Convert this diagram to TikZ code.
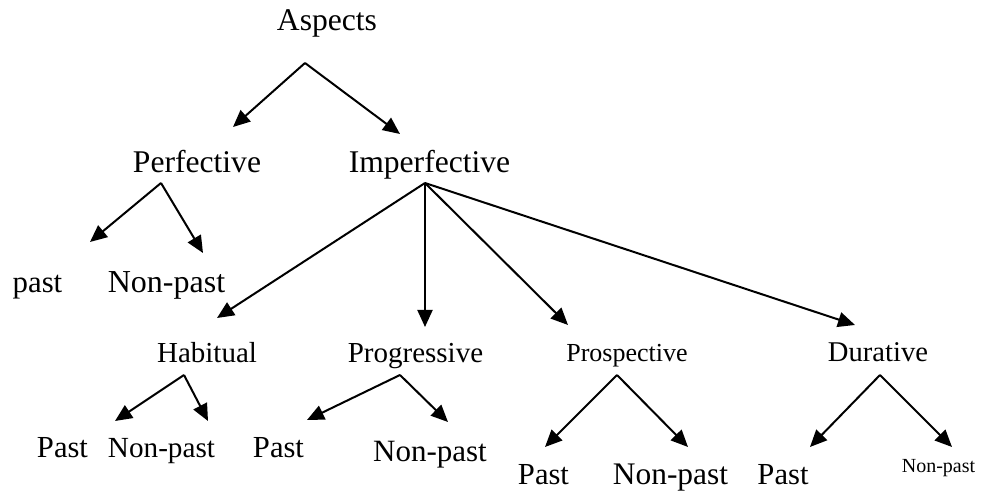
\documentclass[tikz,border=0pt]{standalone}
\usepackage{fontspec}
\setmainfont{Liberation Serif}
\usetikzlibrary{arrows.meta}
\newcommand\fsz[1]{\fontsize{#1}{#1}\selectfont}
\tikzset{
  lbl/.style={inner sep=0pt,anchor=base},
  link/.style={-{Triangle[length=8.5pt,width=7.5pt]},line width=1pt}
}
\begin{document}
\begin{tikzpicture}[x=0.5pt,y=-0.5pt]
\useasboundingbox (0,0) rectangle (982,496);
% labels
\node[lbl,font=\fsz{15.8}] (asp) at (327,31) {Aspects};
\node[lbl,font=\fsz{15.8}] (perf) at (197,173) {Perfective};
\node[lbl,font=\fsz{15.8}] (imperf) at (429.5,173) {Imperfective};
\node[lbl,font=\fsz{15.4}] (perfpast) at (37.5,293) {past};
\node[lbl,font=\fsz{16}] (perfnon) at (166.5,293) {Non-past};
\node[lbl,font=\fsz{14.5}] (hab) at (207,363) {Habitual};
\node[lbl,font=\fsz{14.5}] (prog) at (415.5,363) {Progressive};
\node[lbl,font=\fsz{13}] (prosp) at (627,362) {Prospective};
\node[lbl,font=\fsz{14.3}] (dur) at (878,362) {Durative};
\node[lbl,font=\fsz{15.3}] (habpast) at (62.5,458) {Past};
\node[lbl,font=\fsz{14.6}] (habnon) at (161.5,458) {Non-past};
\node[lbl,font=\fsz{15.3}] (progpast) at (278.5,458) {Past};
\node[lbl,font=\fsz{15.5}] (prognon) at (430,462) {Non-past};
\node[lbl,font=\fsz{15.3}] (prosppast) at (543.5,485) {Past};
\node[lbl,font=\fsz{15.7}] (prospnon) at (670.5,485) {Non-past};
\node[lbl,font=\fsz{15.3}] (durpast) at (783,485) {Past};
\node[lbl,font=\fsz{10}] (durnon) at (938.5,473) {Non-past};
% arrow ends
\coordinate (asp-o) at (305,63);
\coordinate (perf-i) at (233,127);
\coordinate (imperf-i) at (400,134);
\coordinate (perf-o) at (161,183);
\coordinate (perfpast-i) at (90,242);
\coordinate (perfnon-i) at (203,253);
\coordinate (imperf-o) at (425,183);
\coordinate (hab-i) at (217,318);
\coordinate (prog-i) at (425,327);
\coordinate (prosp-i) at (568,325);
\coordinate (dur-i) at (855,325);
\coordinate (hab-o) at (184,375);
\coordinate (habpast-i) at (115,421);
\coordinate (habnon-i) at (208,421);
\coordinate (prog-o) at (400,375);
\coordinate (progpast-i) at (307,420);
\coordinate (prognon-i) at (448,422);
\coordinate (prosp-o) at (617,375);
\coordinate (prosppast-i) at (545,447);
\coordinate (prospnon-i) at (688,447);
\coordinate (dur-o) at (880,375);
\coordinate (durpast-i) at (810,447);
\coordinate (durnon-i) at (952,447);
% arrows
\draw[link] (asp-o) -- (perf-i);
\draw[link] (asp-o) -- (imperf-i);
\draw[link] (perf-o) -- (perfpast-i);
\draw[link] (perf-o) -- (perfnon-i);
\draw[link] (imperf-o) -- (hab-i);
\draw[link] (imperf-o) -- (prog-i);
\draw[link] (imperf-o) -- (prosp-i);
\draw[link] (imperf-o) -- (dur-i);
\draw[link] (hab-o) -- (habpast-i);
\draw[link] (hab-o) -- (habnon-i);
\draw[link] (prog-o) -- (progpast-i);
\draw[link] (prog-o) -- (prognon-i);
\draw[link] (prosp-o) -- (prosppast-i);
\draw[link] (prosp-o) -- (prospnon-i);
\draw[link] (dur-o) -- (durpast-i);
\draw[link] (dur-o) -- (durnon-i);
\end{tikzpicture}
\end{document}
